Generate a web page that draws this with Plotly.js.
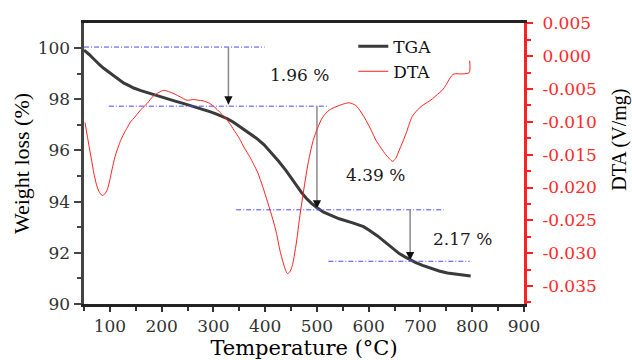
<!DOCTYPE html>
<html>
<head>
<meta charset="utf-8">
<script src="https://cdn.plot.ly/plotly-3.0.1.min.js"></script>
<style>html,body{margin:0;padding:0;background:#fff;}#chart{width:632px;height:360px;}</style>
</head>
<body>
<div id="chart"></div>
<script>
// TGA curve (temperature °C, weight %)
const tgaT = [50,55,60,65,70,75,80,88,100,108,118,127,137,146,160,178,195,210,226,243,262,278,293,305,318,328,338,350,362,372,383,398,412,426,440,450,460,470,479,490,501,512,524,543,569,590,601,617,633,646,659,670,678,690,704,720,736,752,768,785,797];
const tgaW = [99.92,99.85,99.75,99.65,99.54,99.44,99.35,99.21,99.03,98.89,98.74,98.63,98.53,98.44,98.34,98.22,98.12,98.03,97.93,97.83,97.72,97.62,97.52,97.43,97.32,97.23,97.11,96.95,96.79,96.65,96.48,96.22,95.92,95.58,95.22,94.92,94.62,94.36,94.14,93.92,93.75,93.6,93.49,93.33,93.17,93.02,92.88,92.66,92.4,92.17,91.97,91.84,91.75,91.63,91.51,91.39,91.29,91.21,91.16,91.12,91.09];
// DTA curve (temperature °C, V/mg)
const dtaT = [52,56,60,65,69,74,79,85,90,95,100,104,110,114,120,127,134,140,148,156,164,172,178,185,195,204,210,217,226,236,249,262,270,280,293,303,312,322,331,340,350,360,370,378,386,395,405,415,422,428,435,440,443,447,452,456,461,466,471,476,482,489,494,501,511,524,543,555,562,575,585,595,605,614,624,633,640,646,652,659,665,672,678,684,694,704,714,723,733,742,750,755,760,765,781,794,795];
const dtaV = [-0.0101,-0.0120,-0.0138,-0.0160,-0.0178,-0.0195,-0.0206,-0.0212,-0.0210,-0.0203,-0.0188,-0.0173,-0.0153,-0.0143,-0.0130,-0.0118,-0.0108,-0.0100,-0.0093,-0.0085,-0.0078,-0.0072,-0.0066,-0.0060,-0.0055,-0.0052,-0.0053,-0.0055,-0.0058,-0.0062,-0.0067,-0.0066,-0.0067,-0.0068,-0.0072,-0.0078,-0.0085,-0.0093,-0.0102,-0.0113,-0.0125,-0.0140,-0.0153,-0.0165,-0.0178,-0.0198,-0.0223,-0.0249,-0.0270,-0.0294,-0.0315,-0.0327,-0.0331,-0.0329,-0.0320,-0.0305,-0.0280,-0.0249,-0.0222,-0.0196,-0.0167,-0.0140,-0.0125,-0.0110,-0.0093,-0.0082,-0.0075,-0.0072,-0.0071,-0.0075,-0.0085,-0.0098,-0.0113,-0.0128,-0.0140,-0.0150,-0.0156,-0.0160,-0.0156,-0.0143,-0.0132,-0.0118,-0.0104,-0.0092,-0.0082,-0.0075,-0.0070,-0.0065,-0.0058,-0.0052,-0.0043,-0.0036,-0.0030,-0.0027,-0.0027,-0.0025,-0.0007];
// Reference levels (blue dash-dot lines): level weight, start T, end T
const levelW = [100.04, 97.73, 93.68, 91.67];
const levelStart = [50, 98, 344, 522];
const levelEnd = [399, 521, 745, 795];
// Arrows: temperature, from weight, to weight
const arrowT = [329, 500, 680];
const arrowFrom = [100.04, 97.73, 93.68];
const arrowTo = [97.8, 93.73, 91.71];
// Step labels
const stepLabels = ['1.96 %', '4.39 %', '2.17 %'];
const stepLabelT = [467, 614, 782];
const stepLabelW = [98.95, 95.03, 92.55];
// Tick labels
const xTicks = [100,200,300,400,500,600,700,800,900];
const yTicks = [90,92,94,96,98,100];
const y2Ticks = [0.005,0,-0.005,-0.010,-0.015,-0.020,-0.025,-0.030,-0.035];
const y2TickText = ['0.005','0.000','-0.005','-0.010','-0.015','-0.020','-0.025','-0.030','-0.035'];

const serif = 'DejaVu Serif';
const traces = [];
traces.push({x: tgaT, y: tgaW, type: 'scatter', mode: 'lines', name: 'TGA', line: {color: '#3a3a3a', width: 3}, yaxis: 'y'});
traces.push({x: dtaT, y: dtaV, type: 'scatter', mode: 'lines', name: 'DTA', line: {color: '#ff2020', width: 1, shape: 'spline', smoothing: 0.8}, yaxis: 'y2'});
for (let i = 0; i < levelW.length; i++) {
  traces.push({x: [levelStart[i], levelEnd[i]], y: [levelW[i], levelW[i]], type: 'scatter', mode: 'lines', showlegend: false, hoverinfo: 'skip', line: {color: '#4a4aff', width: 1, dash: '5px,2px,1px,2px'}, yaxis: 'y'});
}
for (let i = 0; i < arrowT.length; i++) {
  traces.push({x: [arrowT[i], arrowT[i]], y: [arrowFrom[i], arrowTo[i]], type: 'scatter', mode: 'lines', showlegend: false, hoverinfo: 'skip', line: {color: '#8a8a8a', width: 1.5}, yaxis: 'y'});
}
const annotations = [];
for (let i = 0; i < arrowT.length; i++) {
  annotations.push({x: arrowT[i], y: arrowTo[i], xref: 'x', yref: 'y', ax: 0, ay: -9, axref: 'pixel', ayref: 'pixel', showarrow: true, arrowhead: 2, arrowsize: 1.1, arrowwidth: 1.5, arrowcolor: '#111', text: ''});
}
for (let i = 0; i < stepLabels.length; i++) {
  annotations.push({x: stepLabelT[i], y: stepLabelW[i], xref: 'x', yref: 'y', text: stepLabels[i], showarrow: false, font: {family: serif, size: 17, color: '#1a1a1a'}, xanchor: 'center', yanchor: 'middle'});
}
annotations.push({x: 1.218, y: 0.584, xref: 'paper', yref: 'paper', text: 'DTA (V/mg)', textangle: -90, showarrow: false, font: {family: 'Liberation Serif', size: 20, color: '#000'}, xanchor: 'center', yanchor: 'middle'});

const layout = {
  width: 632, height: 360,
  margin: {l: 84, r: 108, t: 23, b: 56},
  paper_bgcolor: '#fff', plot_bgcolor: '#fff',
  showlegend: true,
  legend: {x: 0.612, y: 0.98, xanchor: 'left', yanchor: 'top', bgcolor: 'rgba(0,0,0,0)', font: {family: serif, size: 17, color: '#111'}, tracegroupgap: 0},
  xaxis: {range: [50, 900], tickmode: 'array', tickvals: xTicks, ticks: 'outside', ticklen: 5, tickwidth: 2, tickcolor: '#333',
    minor: {tickmode: 'linear', tick0: 50, dtick: 100, ticks: 'outside', ticklen: 4, tickwidth: 2, tickcolor: '#333'},
    showline: true, linecolor: '#222', linewidth: 3, mirror: true, showgrid: false, zeroline: false,
    tickfont: {family: serif, size: 17, color: '#333'},
    title: {text: 'Temperature (°C)', font: {family: serif, size: 21, color: '#000'}, standoff: 8}},
  yaxis: {range: [90, 100.98], tickmode: 'array', tickvals: yTicks, ticks: 'outside', ticklen: 7, tickwidth: 2, tickcolor: '#444',
    minor: {tickmode: 'linear', tick0: 91, dtick: 2, ticks: 'outside', ticklen: 4, tickwidth: 2, tickcolor: '#444'},
    showline: true, linecolor: '#444', linewidth: 3.5, showgrid: false, zeroline: false,
    tickfont: {family: serif, size: 17, color: '#333'},
    title: {text: 'Weight loss (%)', font: {family: 'Liberation Serif', size: 22, color: '#000'}, standoff: 3}},
  yaxis2: {range: [-0.03773, 0.00505], overlaying: 'y', side: 'right', tickmode: 'array', tickvals: y2Ticks, ticktext: y2TickText,
    ticks: 'outside', ticklen: 6, tickwidth: 2, tickcolor: '#ff2020',
    minor: {tickmode: 'linear', tick0: 0.0025, dtick: 0.005, ticks: 'outside', ticklen: 4, tickwidth: 2, tickcolor: '#ff2020'},
    showline: true, linecolor: '#ff2020', linewidth: 3, showgrid: false, zeroline: false,
    tickfont: {family: serif, size: 17, color: '#ff2a2a'}, ticklabelstandoff: 6},
  annotations: annotations
};
Plotly.newPlot('chart', traces, layout, {displayModeBar: false, staticPlot: true});
</script>
</body>
</html>
